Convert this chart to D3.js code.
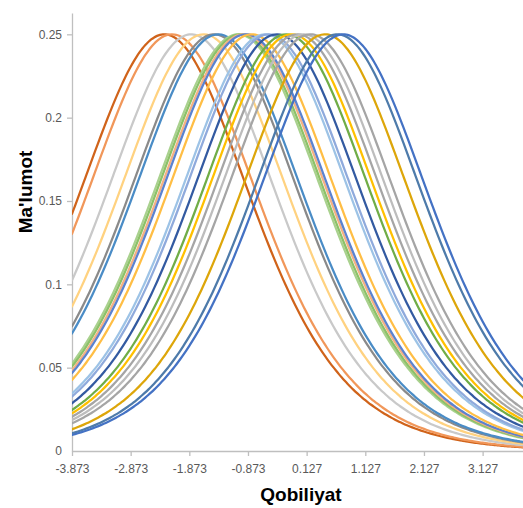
<!DOCTYPE html>
<html>
<head>
<meta charset="utf-8">
<script src="https://cdn.jsdelivr.net/npm/d3@7"></script>
<style>
  html, body { margin: 0; padding: 0; background: #fff; }
  svg { display: block; }
</style>
</head>
<body>
<svg id="chart" width="523" height="508"></svg>
<script>
// ---- data ----
// x-axis tick labels (ability, theta)
const xTickLabels = ["-3.873", "-2.873", "-1.873", "-0.873", "0.127", "1.127", "2.127", "3.127"];
// y-axis tick labels (information)
const yTickLabels = ["0", "0.05", "0.1", "0.15", "0.2", "0.25"];
// item difficulties (location of each curve's 0.25 peak)
const itemDifficulty = [-2.30, -2.17, -1.84, -1.63, -1.45, -1.38, -1.04, -1.00, -0.95, -0.91,
                        -0.81, -0.58, -0.52, -0.38, -0.22, -0.13, -0.03, 0.075, 0.19, 0.44,
                        0.65, 0.75];
// colour of each item curve
const itemColor = ["#D0631A", "#F1975A", "#C9C9C9", "#FFD280", "#8A8A8A", "#4A8CC6", "#A9D18E", "#8CC168",
                   "#F4B183", "#5B82CF", "#FFBE45", "#9DC3E6", "#8FAADC", "#335AA1", "#70AD47", "#FFC000",
                   "#A5A5A5", "#BDBDBD", "#A5A5A5", "#DDA60A", "#4E7BAA", "#4472C4"];
// ability grid on which each curve is evaluated (Excel category points)
const thetaStart = -3.873, thetaStep = 0.05, thetaCount = 161;

// ---- build series: item information of a Rasch item, P(1-P) ----
const thetas = d3.range(thetaCount).map(i => +(thetaStart + i * thetaStep).toFixed(3));
const series = itemDifficulty.map((b, i) => ({
  color: itemColor[i],
  values: thetas.map(t => { const p = 1 / (1 + Math.exp(-(t - b))); return { x: t, y: p * (1 - p) }; })
}));

// ---- layout ----
const svg = d3.select("#chart");
const W = 523, H = 508;
const x0 = 72, yZero = 451, pxPerUnitX = 58.66, pxPerUnitY = 1666.7;
const xMaxVal = thetaStart + 8;
const x = d3.scaleLinear().domain([thetaStart, xMaxVal]).range([x0, x0 + 8 * pxPerUnitX]);
const yTop = 13;
const y = d3.scaleLinear().domain([0, (yZero - yTop) / pxPerUnitY]).range([yZero, yTop]);

svg.append("defs").append("clipPath").attr("id", "plotclip")
  .append("rect").attr("x", x0).attr("y", 0).attr("width", W - x0 + 40).attr("height", yZero);

const axisColor = "#BFBFBF", labelColor = "#595959";
const font = "'Liberation Sans', Arial, sans-serif";

// y axis
const yAxis = d3.axisLeft(y)
  .tickValues(yTickLabels.map(Number))
  .tickFormat((d, i) => yTickLabels[i])
  .tickSize(5).tickSizeOuter(0).tickPadding(5);
const gy = svg.append("g").attr("transform", `translate(${x0},0)`).call(yAxis);
gy.select(".domain").attr("stroke", axisColor).attr("stroke-width", 1.3);
gy.selectAll(".tick line").attr("stroke", axisColor).attr("stroke-width", 1.3);
gy.selectAll(".tick text").attr("fill", labelColor).style("font-family", font).style("font-size", "12px");
gy.selectAll(".tick").filter(d => d === 0).select("line").remove();

// x axis
const xAxis = d3.axisBottom(x)
  .tickValues(xTickLabels.map(Number))
  .tickFormat((d, i) => xTickLabels[i])
  .tickSize(5).tickSizeOuter(0).tickPadding(8);
const gx = svg.append("g").attr("transform", `translate(0,${yZero})`).call(xAxis);
gx.select(".domain").attr("stroke", axisColor).attr("stroke-width", 1.3);
gx.selectAll(".tick line").attr("stroke", axisColor).attr("stroke-width", 1.3);
gx.selectAll(".tick text").attr("fill", labelColor).style("font-family", font).style("font-size", "12px");

// curves
const line = d3.line().x(d => x(d.x)).y(d => y(d.y)).curve(d3.curveCatmullRom);
svg.append("g").attr("clip-path", "url(#plotclip)")
  .selectAll("path").data(series).join("path")
  .attr("d", d => line(d.values))
  .attr("fill", "none")
  .attr("stroke", d => d.color)
  .attr("stroke-width", 2.25)
  .attr("stroke-linejoin", "round")
  .attr("stroke-linecap", "round");

// axis titles
svg.append("text").attr("x", 301).attr("y", 501)
  .attr("text-anchor", "middle")
  .style("font-family", font).style("font-weight", "bold").style("font-size", "19px")
  .attr("fill", "#000").text("Qobiliyat");
svg.append("text")
  .attr("transform", `translate(32,192) rotate(-90)`)
  .attr("text-anchor", "middle")
  .style("font-family", font).style("font-weight", "bold").style("font-size", "19px")
  .attr("fill", "#000").text("Ma'lumot");
</script>
</body>
</html>
